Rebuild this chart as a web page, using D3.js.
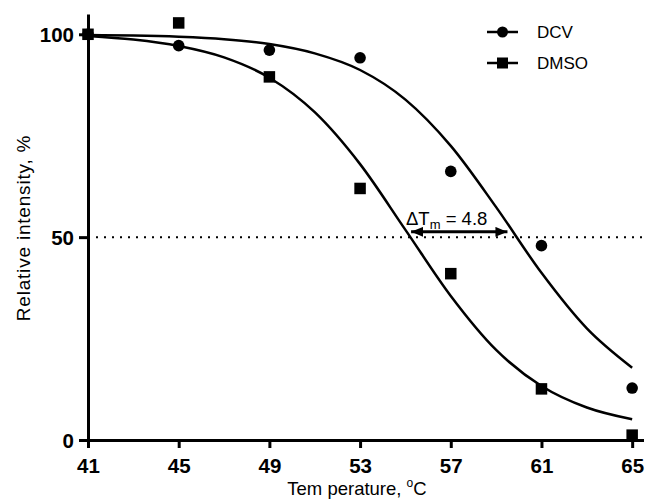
<!DOCTYPE html>
<html>
<head>
<meta charset="utf-8">
<script src="https://cdn.jsdelivr.net/npm/d3@7"></script>
<style>
  body { margin: 0; background: #fff; }
  text { font-family: "Liberation Sans", Arial, sans-serif; fill: #000; }
</style>
</head>
<body>
<svg id="chart" width="646" height="501"></svg>
<script>
// measured points
var temps = [41, 45, 49, 53, 57, 61, 65];
var dcv = [100, 97.2, 96.1, 94.2, 66.2, 47.9, 12.8];
var dmso = [100, 102.8, 89.5, 62, 41, 12.6, 1.2];

// fitted curves, every 2 degrees
var fitTemps = [41, 43, 45, 47, 49, 51, 53, 55, 57, 59, 61, 63, 65];
var dcvFit = [99.8, 99.7, 99.4, 98.8, 97.6, 95.3, 91.2, 83.9, 72.5, 57.4, 41.2, 27.5, 17.8];
var dmsoFit = [99.6, 98.7, 97.1, 94.3, 89.3, 80.8, 68.0, 51.8, 35.5, 22.2, 13.3, 8.0, 5.1];

var xTicks = [41, 45, 49, 53, 57, 61, 65];
var yTicks = [0, 50, 100];
var tmDmso = 55.25, tmDcv = 59.5, arrowY = 51.3;
var refLine = 50;
var deltaText = "4.8";

var svg = d3.select('#chart');

var x = d3.scaleLinear().domain([41, 65.5]).range([88, 643.5]);
var y = d3.scaleLinear().domain([0, 105]).range([440, 14]);

// axes
var xAxis = d3.axisBottom(x).tickValues(xTicks).tickSize(8).tickSizeOuter(0).tickPadding(10);
var yAxis = d3.axisLeft(y).tickValues(yTicks).tickSize(9).tickSizeOuter(0).tickPadding(5);

var gx = svg.append('g').attr('transform', 'translate(0,' + y(0) + ')').call(xAxis);
var gy = svg.append('g').attr('transform', 'translate(' + x(41) + ',0)').call(yAxis);

[gx, gy].forEach(function(g) {
  g.select('.domain').attr('stroke', '#000').attr('stroke-width', 3);
  g.selectAll('.tick line').attr('stroke', '#000').attr('stroke-width', 3);
  g.selectAll('.tick text')
    .attr('fill', '#000')
    .style('font-size', '20.5px')
    .style('font-weight', 'bold')
    .style('font-family', '"Liberation Sans", Arial, sans-serif');
});
gy.selectAll('.tick text').attr('dy', '0.36em');

// dotted 50% line
svg.append('line')
  .attr('x1', x(41)).attr('x2', x(65.5))
  .attr('y1', y(refLine)).attr('y2', y(refLine))
  .attr('stroke', '#000')
  .attr('stroke-width', 2)
  .attr('stroke-dasharray', '2,6');

// curves
var line = d3.line()
  .x(function(d) { return x(d[0]); })
  .y(function(d) { return y(d[1]); })
  .curve(d3.curveMonotoneX);

[dcvFit, dmsoFit].forEach(function(vals) {
  svg.append('path')
    .datum(fitTemps.map(function(t, i) { return [t, vals[i]]; }))
    .attr('d', line)
    .attr('fill', 'none')
    .attr('stroke', '#000')
    .attr('stroke-width', 2.5);
});

// points
svg.selectAll('circle.dcv')
  .data(temps.map(function(t, i) { return [t, dcv[i]]; }))
  .enter().append('circle')
  .attr('class', 'dcv')
  .attr('cx', function(d) { return x(d[0]); })
  .attr('cy', function(d) { return y(d[1]); })
  .attr('r', 5.8);

var sq = 11.5;
svg.selectAll('rect.dmso')
  .data(temps.map(function(t, i) { return [t, dmso[i]]; }))
  .enter().append('rect')
  .attr('class', 'dmso')
  .attr('x', function(d) { return x(d[0]) - sq / 2; })
  .attr('y', function(d) { return y(d[1]) - sq / 2; })
  .attr('width', sq).attr('height', sq);

// delta Tm arrow
var defs = svg.append('defs');
defs.append('marker')
  .attr('id', 'head')
  .attr('viewBox', '0 0 12 10')
  .attr('refX', 12).attr('refY', 5)
  .attr('markerWidth', 12).attr('markerHeight', 10)
  .attr('markerUnits', 'userSpaceOnUse')
  .attr('orient', 'auto-start-reverse')
  .append('path').attr('d', 'M0,0 L12,5 L0,10 Z').attr('fill', '#000');

svg.append('line')
  .attr('x1', x(tmDmso)).attr('x2', x(tmDcv))
  .attr('y1', y(arrowY)).attr('y2', y(arrowY))
  .attr('stroke', '#000').attr('stroke-width', 3)
  .attr('marker-start', 'url(#head)')
  .attr('marker-end', 'url(#head)');

var lab = svg.append('text')
  .attr('x', 406)
  .attr('y', y(arrowY) - 7)
  .style('font-size', '18.5px');
lab.append('tspan').text('\u0394T');
lab.append('tspan').attr('dy', 4).style('font-size', '13px').text('m');
lab.append('tspan').attr('dy', -4).text(' = ' + deltaText);

// legend
var legend = [
  { name: 'DCV', shape: 'circle', y: 32 },
  { name: 'DMSO', shape: 'square', y: 63 }
];
legend.forEach(function(d) {
  var g = svg.append('g');
  g.append('line').attr('x1', 487).attr('x2', 518).attr('y1', d.y).attr('y2', d.y)
    .attr('stroke', '#000').attr('stroke-width', 2.5);
  if (d.shape === 'circle') {
    g.append('circle').attr('cx', 502.5).attr('cy', d.y).attr('r', 5.5);
  } else {
    g.append('rect').attr('x', 502.5 - 5.5).attr('y', d.y - 5.5).attr('width', 11).attr('height', 11);
  }
  g.append('text').attr('x', 537).attr('y', d.y + 6).style('font-size', '17px').text(d.name);
});

// axis titles
svg.append('text')
  .attr('transform', 'translate(30,228) rotate(-90)')
  .attr('text-anchor', 'middle')
  .style('font-size', '19px')
  .style('letter-spacing', '0.8px')
  .text('Relative intensity, %');

var xt = svg.append('text')
  .attr('x', 357).attr('y', 495)
  .attr('text-anchor', 'middle')
  .style('font-size', '18.5px')
  .style('font-family', '"Liberation Sans Narrow", "Liberation Sans", Arial, sans-serif');
xt.append('tspan').text('Tem perature, ');
xt.append('tspan').attr('dy', -8).style('font-size', '12px').text('o');
xt.append('tspan').attr('dy', 8).text('C');
</script>
</body>
</html>
